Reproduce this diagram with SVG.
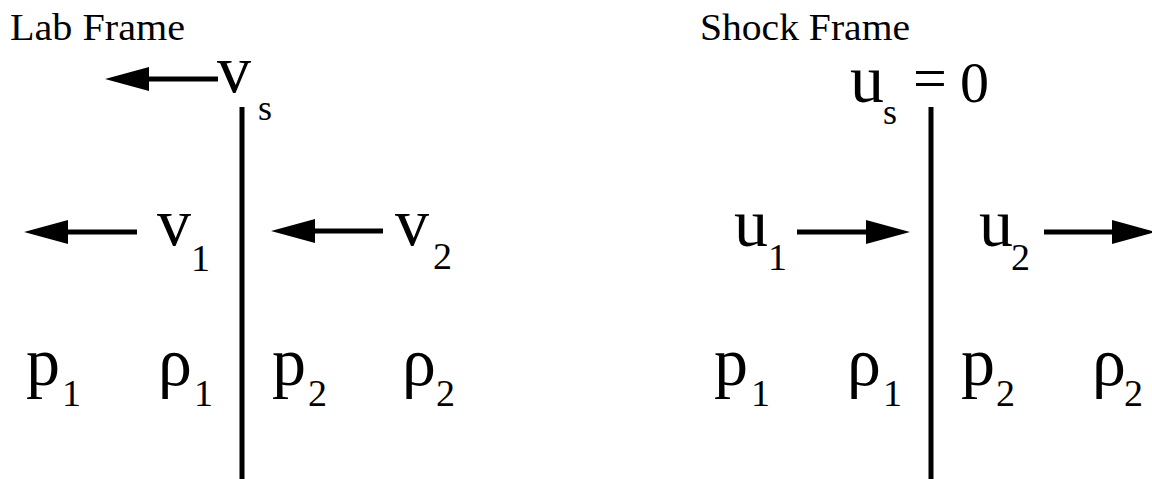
<svg xmlns="http://www.w3.org/2000/svg" width="1152" height="479" viewBox="0 0 1152 479">
<style>
text{font-family:"Liberation Serif","Times New Roman",serif;fill:#000}
.lbl{font-size:38px}
.m{font-size:68px}
.d{font-size:38px}
.s{font-size:36px}
.sh{stroke:#000;stroke-width:5;fill:none}
.ar{stroke:#000;stroke-width:5;fill:none;marker-end:url(#ah)}
</style>
<defs>
<marker id="ah" markerUnits="userSpaceOnUse" viewBox="0 0 44 24" refX="0" refY="12" markerWidth="44" markerHeight="24" orient="auto">
<path d="M0,0 L44,12 L0,24 z" fill="#000"/>
</marker>
</defs>
<rect width="1152" height="479" fill="#fff"/>
<g id="titles">
<text class="lbl" x="10" y="40" textLength="175" lengthAdjust="spacingAndGlyphs">Lab Frame</text>
<text class="lbl" x="700" y="40" textLength="210" lengthAdjust="spacingAndGlyphs">Shock Frame</text>
</g>
<g id="shocks">
<line id="lab-shock" class="sh" x1="242" y1="107" x2="242" y2="479"/>
<line id="shock-shock" class="sh" x1="931" y1="107" x2="931" y2="479"/>
</g>
<g id="connectors">
<line class="ar" x1="218" y1="79" x2="149" y2="79"/>
<line class="ar" x1="137" y1="232" x2="68" y2="232"/>
<line class="ar" x1="383" y1="231" x2="315" y2="231"/>
<line class="ar" x1="797" y1="232" x2="866" y2="232"/>
<line class="ar" x1="1044" y1="232" x2="1112" y2="232"/>
</g>
<g id="lab-vs"><text class="m" x="217" y="92">v</text><text class="s" x="258" y="120">s</text></g>
<g id="lab-v1"><text class="m" x="157" y="245">v</text><text class="d" x="191" y="271">1</text></g>
<g id="lab-v2"><text class="m" x="395" y="245">v</text><text class="d" x="433" y="269">2</text></g>
<g id="lab-p1"><text class="m" x="26" y="385">p</text><text class="d" x="62" y="406">1</text></g>
<g id="lab-rho1"><text class="m" x="158" y="385">ρ</text><text class="d" x="194" y="406">1</text></g>
<g id="lab-p2"><text class="m" x="272" y="385">p</text><text class="d" x="308" y="406">2</text></g>
<g id="lab-rho2"><text class="m" x="402" y="385">ρ</text><text class="d" x="436" y="406">2</text></g>
<g id="shock-us"><text class="m" x="850" y="102">u</text><text class="s" x="883" y="124">s</text><text x="913" y="98" style="font-size:60px">=</text><text x="960" y="102" style="font-size:58px">0</text></g>
<g id="shock-u1"><text class="m" x="734" y="246">u</text><text class="d" x="768" y="270">1</text></g>
<g id="shock-u2"><text class="m" x="979" y="246">u</text><text class="d" x="1011" y="270">2</text></g>
<g id="shock-p1"><text class="m" x="714" y="385">p</text><text class="d" x="751" y="406">1</text></g>
<g id="shock-rho1"><text class="m" x="847" y="385">ρ</text><text class="d" x="883" y="406">1</text></g>
<g id="shock-p2"><text class="m" x="961" y="385">p</text><text class="d" x="996" y="406">2</text></g>
<g id="shock-rho2"><text class="m" x="1092" y="385">ρ</text><text class="d" x="1124" y="406">2</text></g>
</svg>
